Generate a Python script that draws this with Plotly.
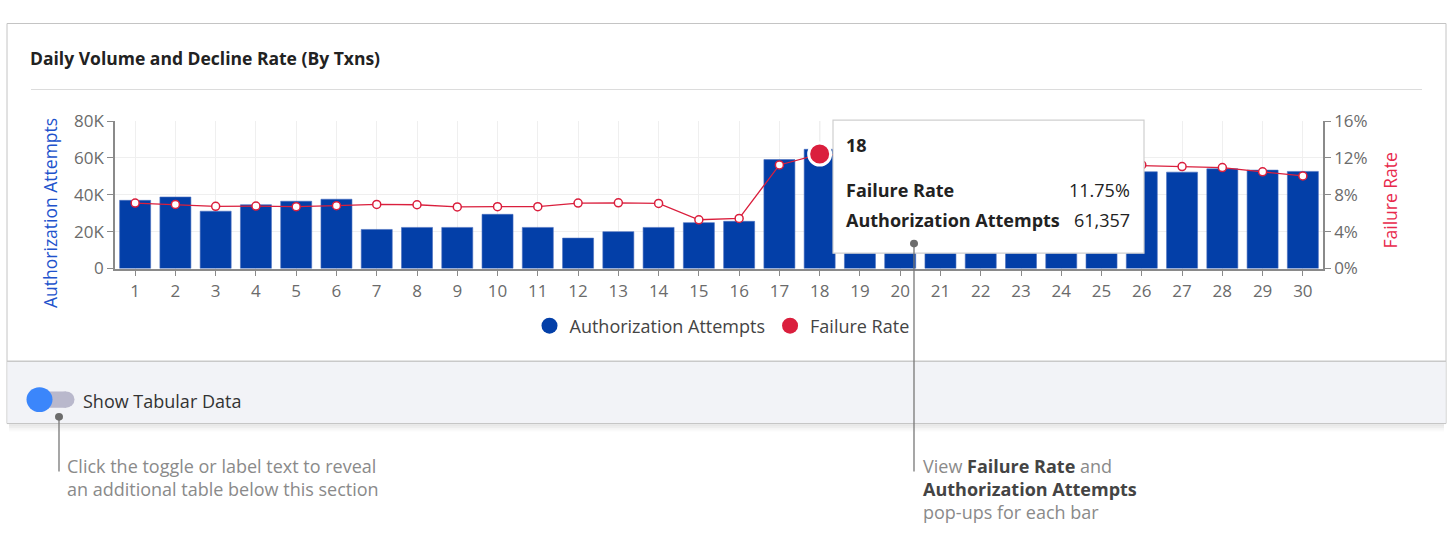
import plotly.graph_objects as go

W, H = 1449, 536

# ---- data ----
days = list(range(1, 31))
attempts = [37000, 38800, 31100, 34600, 36500, 37600, 21200, 22300, 22300, 29400,
            22300, 16500, 20000, 22300, 24900, 25600, 59100, 64700, 60000, 58000,
            57000, 56000, 55000, 54000, 53000, 52500, 52300, 54100, 53400, 52700]
failure_rate = [7.10, 6.96, 6.75, 6.78, 6.71, 6.82, 6.96, 6.92, 6.68, 6.71,
                6.71, 7.10, 7.13, 7.06, 5.29, 5.43, 11.24, 12.42, 12.2, 12.0,
                11.8, 11.6, 11.5, 11.4, 11.3, 11.24, 11.06, 10.96, 10.50, 10.05]
y1_tickvals = [0, 20000, 40000, 60000, 80000]
y1_ticktext = ["0", "20K", "40K", "60K", "80K"]
y2_tickvals = [0, 4, 8, 12, 16]
y2_ticktext = ["0%", "4%", "8%", "12%", "16%"]
hover_day = 18
tooltip_rate = "11.75%"
tooltip_attempts = "61,357"

BLUE = "#033fa8"
RED = "#da1f3d"
FONT = "Open Sans"


def PX(x):
    return x / W


def PY(y):
    return 1 - y / H


fig = go.Figure()

fig.add_trace(go.Bar(x=days, y=attempts, marker=dict(color=BLUE, line=dict(color="#4a6fc0", width=0.6)),
                     width=0.77, showlegend=False, yaxis="y"))
fig.add_trace(go.Scatter(x=days, y=failure_rate, mode="lines+markers", yaxis="y2",
                         line=dict(color=RED, width=1.3),
                         marker=dict(symbol="circle", size=8, color="white", line=dict(color=RED, width=1.5)),
                         showlegend=False))
hi = days.index(hover_day)
fig.add_trace(go.Scatter(x=[days[hi]], y=[failure_rate[hi]], mode="markers", yaxis="y2",
                         marker=dict(symbol="circle", size=22, color=RED, line=dict(color="white", width=3)),
                         showlegend=False))
# legend entries (circle symbols)
fig.add_trace(go.Scatter(x=[None], y=[None], mode="markers", name="Authorization Attempts",
                         marker=dict(symbol="circle", size=16, color=BLUE)))
fig.add_trace(go.Scatter(x=[None], y=[None], mode="markers", name="Failure Rate",
                         marker=dict(symbol="circle", size=16, color=RED)))

shapes = []
# card outline, footer, shadow
shapes.append(dict(type="rect", xref="paper", yref="paper", x0=PX(7), x1=PX(1446), y0=PY(12), y1=PY(430),
                   line=dict(color="#c4c4c4", width=1), fillcolor="rgba(0,0,0,0)", layer="below"))
shapes.append(dict(type="rect", xref="paper", yref="paper", x0=PX(7.5), x1=PX(1445.5), y0=PY(365), y1=PY(429.5),
                   line=dict(width=0), fillcolor="#f2f3f7", layer="below"))
shapes.append(dict(type="line", xref="paper", yref="paper", x0=PX(7), x1=PX(1446), y0=PY(365), y1=PY(365),
                   line=dict(color="#c9c9c9", width=1.5), layer="below"))
for i, a in enumerate([0.10, 0.07, 0.05, 0.03, 0.02]):
    shapes.append(dict(type="line", xref="paper", yref="paper", x0=PX(9), x1=PX(1444),
                       y0=PY(431.5 + i * 1.5), y1=PY(431.5 + i * 1.5),
                       line=dict(color=f"rgba(0,0,0,{a})", width=1.5), layer="below"))
# title separator
shapes.append(dict(type="line", xref="paper", yref="paper", x0=PX(31), x1=PX(1422), y0=PY(81), y1=PY(81),
                   line=dict(color="#dcdcdc", width=1.2), layer="below"))
# hover spike line
shapes.append(dict(type="line", xref="x", yref="y2", x0=hover_day, x1=hover_day, y0=16, y1=failure_rate[hi],
                   line=dict(color="#c8c8c8", width=1), layer="below"))
# toggle
shapes.append(dict(type="rect", xref="paper", yref="paper", x0=PX(36), x1=PX(66), y0=PY(396.5), y1=PY(413.5),
                   line=dict(width=0), fillcolor="#b9b8cc", layer="above"))
shapes.append(dict(type="circle", xref="paper", yref="paper", x0=PX(57.5), x1=PX(74.5), y0=PY(396.5), y1=PY(413.5),
                   line=dict(width=0), fillcolor="#b9b8cc", layer="above"))
shapes.append(dict(type="circle", xref="paper", yref="paper", x0=PX(26.5), x1=PX(52.5), y0=PY(392), y1=PY(418),
                   line=dict(width=0), fillcolor="#3b86fb", layer="above"))
# tooltip box
shapes.append(dict(type="rect", xref="paper", yref="paper", x0=PX(833), x1=PX(1144), y0=PY(113), y1=PY(252),
                   line=dict(color="#cfcfcf", width=1.2), fillcolor="white", layer="above"))
# callouts
shapes.append(dict(type="line", xref="paper", yref="paper", x0=PX(59), x1=PX(59), y0=PY(423), y1=PY(480),
                   line=dict(color="#777777", width=1.3), layer="above"))
shapes.append(dict(type="circle", xref="paper", yref="paper", x0=PX(55), x1=PX(63), y0=PY(419), y1=PY(427),
                   line=dict(width=0), fillcolor="#6c6c6c", layer="above"))
shapes.append(dict(type="line", xref="paper", yref="paper", x0=PX(914), x1=PX(914), y0=PY(242), y1=PY(480),
                   line=dict(color="#777777", width=1.3), layer="above"))
shapes.append(dict(type="circle", xref="paper", yref="paper", x0=PX(910), x1=PX(918), y0=PY(238), y1=PY(246),
                   line=dict(width=0), fillcolor="#6c6c6c", layer="above"))

ann = []


def text(x, y, s, size=18, color="#333", xanchor="left", bold=False, angle=0):
    if bold:
        s = f"<b>{s}</b>"
    ann.append(dict(xref="paper", yref="paper", x=PX(x), y=PY(y), text=s, showarrow=False,
                    xanchor=xanchor, yanchor="middle", textangle=angle,
                    font=dict(family=FONT, size=size, color=color)))


text(28, 48, "Daily Volume and Decline Rate (By Txns)", size=17.5, color="#222", bold=True)
text(81, 406, "Show Tabular Data", size=18, color="#333")
text(844, 139, "18", size=18, color="#222", bold=True)
text(844, 186, "Failure Rate", size=18, color="#222", bold=True)
text(844, 217, "Authorization Attempts", size=18, color="#222", bold=True)
text(1132, 186, tooltip_rate, size=18, color="#222", xanchor="right")
text(1132, 217, tooltip_attempts, size=18, color="#222", xanchor="right")
text(65, 474, "Click the toggle or label text to reveal", size=18, color="#8a8a8a")
text(65, 498, "an additional table below this section", size=18, color="#8a8a8a")
text(921, 474, "View <span style='color:#444'><b>Failure Rate</b></span> and", size=18, color="#8a8a8a")
text(921, 498, "<b>Authorization Attempts</b>", size=18, color="#444")
text(921, 522, "pop-ups for each bar", size=18, color="#8a8a8a")
# axis titles
text(50, 210, "Authorization Attempts", size=17.5, color="#2152cc", xanchor="center", angle=-90)
text(1390, 197, "Failure Rate", size=17.5, color="#e8294c", xanchor="center", angle=-90)

axis_common = dict(ticks="outside", ticklen=6, tickcolor="#8a8a8a", showline=True, linecolor="#8a8a8a",
                   linewidth=1.5, tickfont=dict(family=FONT, size=17, color="#6b6b6b"), zeroline=False)

fig.update_layout(
    width=W, height=H, autosize=False,
    margin=dict(l=0, r=0, t=0, b=0),
    paper_bgcolor="white", plot_bgcolor="white",
    font=dict(family=FONT),
    xaxis=dict(domain=[PX(115), PX(1323)], range=[0.5, 30.5], tickmode="array", tickvals=days,
               ticktext=[str(d) for d in days], showgrid=True, gridcolor="#efefef", gridwidth=1,
               anchor="y", **axis_common),
    yaxis=dict(domain=[PY(268), PY(114)], range=[0, 80000], tickvals=y1_tickvals, ticktext=y1_ticktext,
               showgrid=True, gridcolor="#efefef", gridwidth=1, anchor="x", **axis_common),
    yaxis2=dict(overlaying="y", side="right", range=[0, 16], tickvals=y2_tickvals, ticktext=y2_ticktext,
                showgrid=False, anchor="x", **axis_common),
    legend=dict(orientation="h", x=PX(722), xanchor="center", y=PY(328), yanchor="middle",
                font=dict(family=FONT, size=18, color="#444"), itemwidth=30, bgcolor="rgba(0,0,0,0)"),
    shapes=shapes,
    annotations=ann,
)

fig.write_html("out.html", config={"displayModeBar": False},
               post_script="document.body.style.margin='0';")
